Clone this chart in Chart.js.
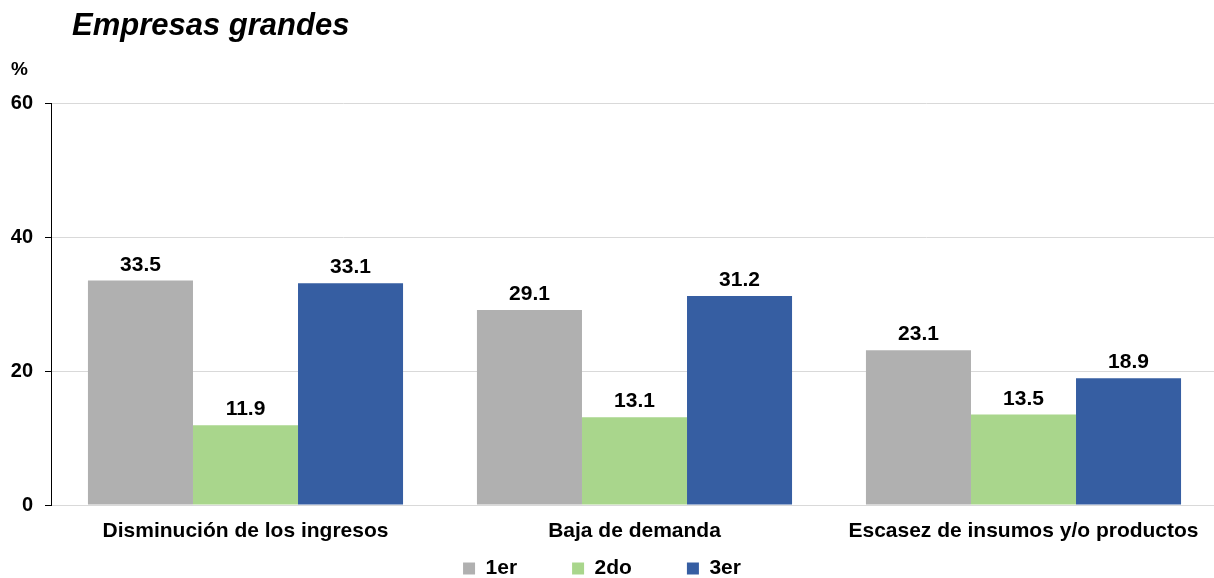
<!DOCTYPE html>
<html>
<head>
<meta charset="utf-8">
<script src="https://cdn.jsdelivr.net/npm/chart.js@4.4.1/dist/chart.umd.min.js"></script>
<style>
  html, body { margin: 0; padding: 0; background: #ffffff; overflow: hidden; }
  #wrap { width: 1218px; height: 578px; position: relative; }
</style>
</head>
<body>
<div id="wrap"><canvas id="c" width="1218" height="578"></canvas></div>
<script>
const chartTitle = "Empresas grandes";
const unitLabel = "%";
const categories = ["Disminución de los ingresos", "Baja de demanda", "Escasez de insumos y/o productos"];
const seriesNames = ["1er", "2do", "3er"];
const serie1er = [33.5, 29.1, 23.1];
const serie2do = [11.9, 13.1, 13.5];
const serie3er = [33.1, 31.2, 18.9];
const yTicks = [0, 20, 40, 60];

const colors = ["#b0b0b0", "#a9d68c", "#365ea2"];
const FONT = "Arial, 'Liberation Sans', sans-serif";

const LEGEND_PAD = 55;      // horizontal gap between legend items
const LEGEND_H = 31;        // legend box height
const LEGEND_ITEM_TOP = 11; // item offset from legend top
const LEGEND_DX = -7;       // horizontal nudge

const legendTweak = {
  id: 'legendTweak',
  beforeUpdate(chart) {
    const lg = chart.legend;
    if (!lg || lg._tweaked) return;
    lg._tweaked = true;
    const origFit = lg.fit.bind(lg);
    lg.fit = function () { origFit(); this.height = LEGEND_H; };
    const origDraw = lg._draw.bind(lg);
    lg._draw = function () {
      const t = this.top, l = this.left, r = this.right;
      this.top = t - (LEGEND_PAD - LEGEND_ITEM_TOP);
      this.left = l + LEGEND_DX; this.right = r + LEGEND_DX;
      origDraw();
      this.top = t; this.left = l; this.right = r;
    };
  }
};

const overlayPlugin = {
  id: 'overlay',
  afterDraw(chart) {
    const ctx = chart.ctx;
    ctx.save();
    ctx.fillStyle = '#000';
    ctx.textAlign = 'left';
    ctx.textBaseline = 'alphabetic';
    ctx.font = "italic bold 31px " + FONT;
    ctx.fillText(chartTitle, 72, 35);
    ctx.font = "bold 19px " + FONT;
    ctx.fillText(unitLabel, 11, 75);
    ctx.restore();
  },
  afterDatasetsDraw(chart) {
    const ctx = chart.ctx;
    ctx.save();
    ctx.fillStyle = '#000';
    ctx.textAlign = 'center';
    ctx.textBaseline = 'alphabetic';
    ctx.font = "bold 21px " + FONT;
    chart.data.datasets.forEach((ds, i) => {
      const meta = chart.getDatasetMeta(i);
      meta.data.forEach((bar, j) => {
        ctx.fillText(ds.data[j].toFixed(1), bar.x, bar.y - 10);
      });
    });
    ctx.restore();
  }
};

new Chart(document.getElementById('c'), {
  type: 'bar',
  data: {
    labels: categories,
    datasets: [
      { label: seriesNames[0], data: serie1er, backgroundColor: colors[0] },
      { label: seriesNames[1], data: serie2do, backgroundColor: colors[1] },
      { label: seriesNames[2], data: serie3er, backgroundColor: colors[2] }
    ]
  },
  options: {
    responsive: false,
    animation: false,
    devicePixelRatio: 1,
    layout: { padding: { top: 103, left: 0, right: 0, bottom: 0 } },
    datasets: { bar: { categoryPercentage: 0.81, barPercentage: 1.0, borderWidth: 0 } },
    scales: {
      x: {
        grid: { display: false, drawTicks: false },
        border: { display: true, color: '#d9d9d9', width: 1 },
        ticks: { color: '#000', font: { family: FONT, weight: 'bold', size: 21 }, padding: 14, maxRotation: 0, autoSkip: false },
        afterFit(scale) { scale.height = 42; }
      },
      y: {
        min: 0, max: 60,
        afterBuildTicks(scale) { scale.ticks = yTicks.map(v => ({ value: v })); },
        ticks: { color: '#000', font: { family: FONT, weight: 'bold', size: 20 }, padding: 12 },
        grid: { color: '#d9d9d9', tickColor: '#000', tickLength: 6, lineWidth: 1 },
        border: { display: true, color: '#000', width: 1 },
        afterFit(scale) { scale.width = 51; }
      }
    },
    plugins: {
      tooltip: { enabled: false },
      title: { display: false },
      legend: {
        position: 'bottom',
        labels: {
          color: '#000',
          font: { family: FONT, weight: 'bold', size: 21 },
          boxWidth: 12, boxHeight: 12,
          padding: LEGEND_PAD
        }
      }
    }
  },
  plugins: [legendTweak, overlayPlugin]
});
</script>
</body>
</html>
